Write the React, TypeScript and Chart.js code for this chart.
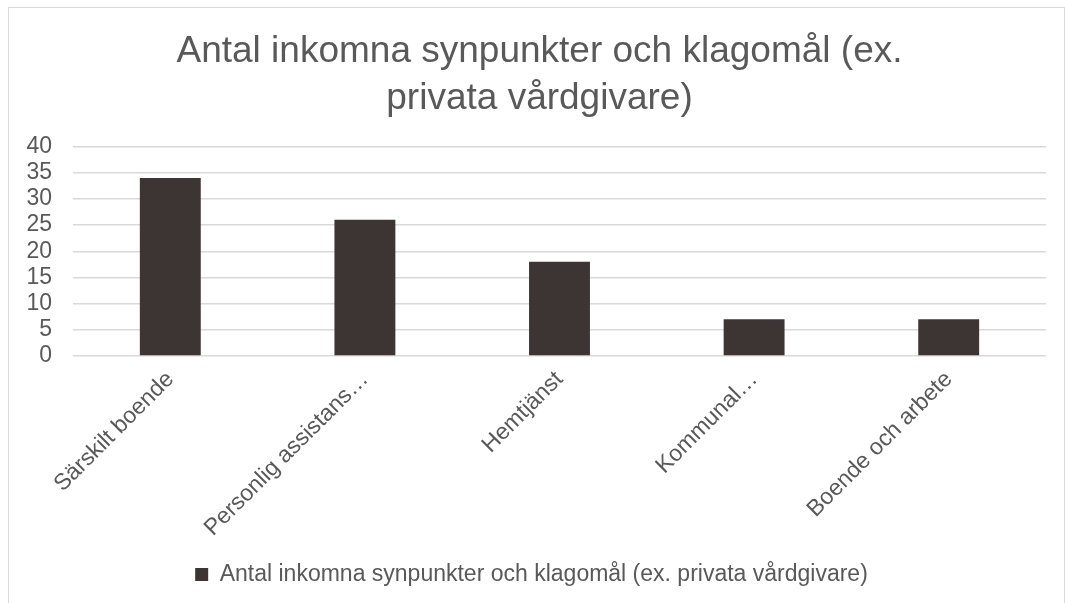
import React, { useEffect, useRef } from "react";
import { Chart, registerables } from "chart.js";

Chart.register(...registerables);

const categories = [
  "Särskilt boende",
  "Personlig assistans…",
  "Hemtjänst",
  "Kommunal…",
  "Boende och arbete",
];
const seriesName = "Antal inkomna synpunkter och klagomål (ex. privata vårdgivare)";
const values = [34, 26, 18, 7, 7];
const titleLines = ["Antal inkomna synpunkter och klagomål (ex.", "privata vårdgivare)"];
const yMin = 0;
const yMax = 40;
const yStep = 5;

const FONT = "'Liberation Sans', Arial, sans-serif";
const TEXT = "#595959";
const GRID = "#d9d9d9";
const BAR = "#3d3533";

const shiftBlocks = {
  id: "shiftBlocks",
  afterLayout(chart: any) {
    const t = chart.titleBlock;
    if (t) {
      t.left += 12;
      t.right += 12;
    }
    const l = chart.legend;
    if (l) {
      l.left += 4;
      l.right += 4;
    }
  },
};

export default function App() {
  const ref = useRef<HTMLCanvasElement | null>(null);

  useEffect(() => {
    if (!ref.current) return;
    const chart = new Chart(ref.current, {
      type: "bar",
      data: {
        labels: categories,
        datasets: [
          {
            label: seriesName,
            data: values,
            backgroundColor: BAR,
            borderWidth: 0,
            categoryPercentage: 1,
            barPercentage: 0.313,
          },
        ],
      },
      options: {
        responsive: false,
        animation: false,
        maintainAspectRatio: false,
        layout: { padding: { left: 0, right: 18, top: 0, bottom: 8 } },
        plugins: {
          title: {
            display: true,
            text: titleLines,
            color: TEXT,
            font: { family: FONT, size: 37, weight: "normal", lineHeight: 1.25 },
            padding: { top: 21, bottom: 25 },
          },
          legend: {
            display: true,
            position: "bottom",
            labels: {
              color: TEXT,
              font: { family: FONT, size: 23 },
              boxWidth: 13,
              boxHeight: 13,
              padding: 10,
            },
          },
          tooltip: { enabled: false },
        },
        scales: {
          x: {
            grid: { display: false, drawTicks: false },
            border: { display: false },
            ticks: {
              color: TEXT,
              font: { family: FONT, size: 23 },
              maxRotation: 45,
              minRotation: 45,
              autoSkip: false,
              padding: 10,
            },
            afterFit: (s: any) => {
              s.height = 197;
            },
          },
          y: {
            min: yMin,
            max: yMax,
            grid: { color: GRID, lineWidth: 1.5, drawTicks: false },
            border: { display: false },
            ticks: {
              stepSize: yStep,
              autoSkip: false,
              color: TEXT,
              font: { family: FONT, size: 23 },
              padding: 21,
            },
            afterFit: (s: any) => {
              s.width = 64;
            },
          },
        },
      },
      plugins: [shiftBlocks],
    });
    return () => chart.destroy();
  }, []);

  return (
    <div
      style={{
        position: "fixed",
        left: 8,
        top: 7,
        width: 1055,
        height: 600,
        border: `1px solid ${GRID}`,
        background: "#fff",
        overflow: "hidden",
      }}
    >
      <canvas ref={ref} width={1055} height={596} style={{ display: "block" }} />
    </div>
  );
}
